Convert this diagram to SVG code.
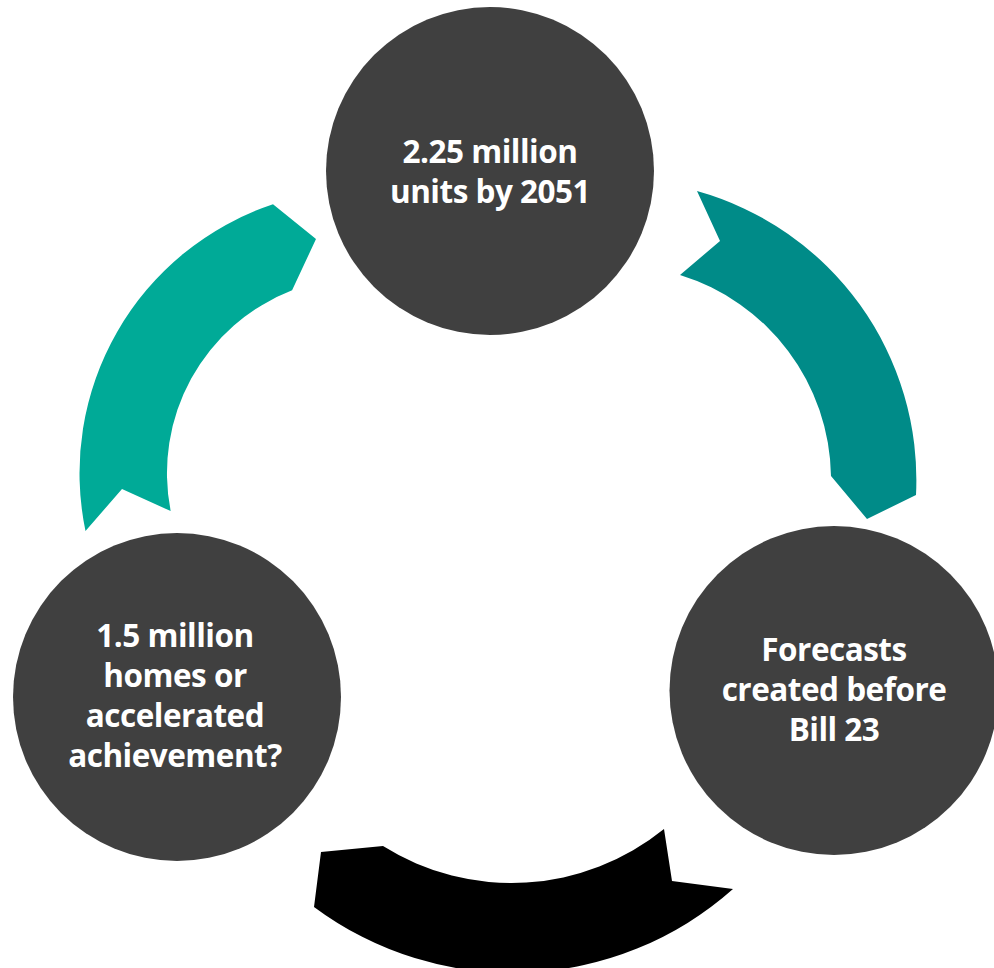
<svg xmlns="http://www.w3.org/2000/svg" width="994" height="968" viewBox="0 0 994 968">
  <style>
    .node { fill: #404040; }
    .label { font-family: "Open Sans", "Liberation Sans", sans-serif; font-weight: 700; font-size: 31.5px; letter-spacing: -0.5px; fill: #ffffff; text-anchor: middle; }
  </style>
  <rect x="0" y="0" width="994" height="968" fill="#ffffff"/>
  <g id="connectors">
    <path id="arrow-left" fill="#00AA97" d="M 85.5 531 A 283.5 283.5 0 0 1 273 204.2 L 316 239 L 292.1 290.3 A 196 196 0 0 0 170.7 511.1 L 122 489 Z"/>
    <path id="arrow-right" fill="#008B88" d="M 697 191 A 300 300 0 0 1 916 495 L 867 519 L 831 476 A 214 214 0 0 0 680 275 L 720 241 Z"/>
    <path id="arrow-bottom" fill="#000000" d="M 733 889 A 332 332 0 0 1 314 907 L 321 852 L 383 846 A 242 242 0 0 0 664 829 L 672 881 Z"/>
  </g>
  <g id="node-top">
    <circle class="node" cx="490" cy="171" r="164"/>
    <text class="label" x="490" y="163">2.25 million</text>
    <text class="label" x="490" y="203">units by 2051</text>
  </g>
  <g id="node-right">
    <circle class="node" cx="834" cy="690.5" r="164.5"/>
    <text class="label" x="834" y="661">Forecasts</text>
    <text class="label" x="834" y="701">created before</text>
    <text class="label" x="834" y="741">Bill 23</text>
  </g>
  <g id="node-left">
    <circle class="node" cx="177" cy="697" r="164"/>
    <text class="label" x="175" y="647">1.5 million</text>
    <text class="label" x="175" y="687">homes or</text>
    <text class="label" x="175" y="727">accelerated</text>
    <text class="label" x="175" y="767">achievement?</text>
  </g>
</svg>
